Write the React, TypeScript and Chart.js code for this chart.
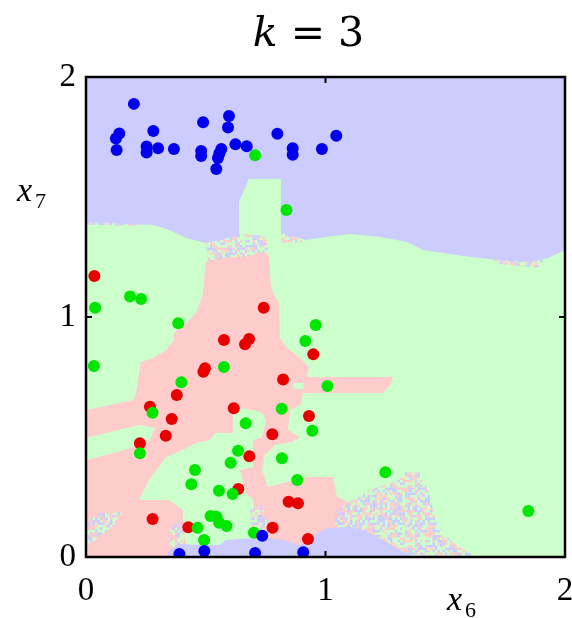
import React, { useEffect, useRef } from 'react';
import { Chart, registerables } from 'chart.js';
Chart.register(...registerables);

// ---------- data ----------
const xTicks = [0, 1, 2];
const yTicks = [0, 1, 2];

const blueX = [0.2, 0.139, 0.125, 0.128, 0.281, 0.253, 0.253, 0.301, 0.367, 0.489, 0.481, 0.481, 0.597, 0.593, 0.565, 0.557, 0.551, 0.544, 0.624, 0.671, 0.799, 0.863, 0.863, 0.985, 1.045, 0.39, 0.494, 0.736, 0.706, 0.907];
const blueY = [1.888, 1.765, 1.744, 1.696, 1.775, 1.71, 1.685, 1.703, 1.7, 1.811, 1.692, 1.671, 1.8375, 1.79, 1.7, 1.682, 1.6625, 1.617, 1.72, 1.711, 1.764, 1.703, 1.676, 1.7, 1.755, 0.0125, 0.025, 0.089, 0.017, 0.02];

const greenX = [0.706, 0.837, 0.184, 0.23, 0.038, 0.385, 0.033, 0.576, 0.398, 0.959, 0.916, 1.008, 0.278, 0.225, 0.667, 0.635, 0.604, 0.455, 0.44, 0.555, 0.612, 0.52, 0.545, 0.556, 0.587, 0.466, 0.493, 0.701, 0.817, 0.945, 0.818, 0.882, 1.25, 1.847];
const greenY = [1.674, 1.446, 1.085, 1.075, 1.039, 0.974, 0.796, 0.792, 0.728, 0.967, 0.9, 0.7125, 0.601, 0.432, 0.557, 0.443, 0.393, 0.3625, 0.303, 0.276, 0.2625, 0.171, 0.168, 0.143, 0.129, 0.122, 0.071, 0.101, 0.618, 0.526, 0.411, 0.321, 0.353, 0.192];

const redX = [0.035, 0.742, 0.576, 0.681, 0.664, 0.497, 0.49, 0.379, 0.949, 0.823, 0.617, 0.267, 0.358, 0.333, 0.225, 0.778, 0.682, 0.636, 0.278, 0.427, 0.779, 0.931, 0.846, 0.885, 0.927];
const redY = [1.171, 1.039, 0.904, 0.908, 0.886, 0.786, 0.772, 0.675, 0.845, 0.74, 0.62, 0.626, 0.575, 0.505, 0.474, 0.511, 0.42, 0.283, 0.158, 0.124, 0.122, 0.5875, 0.23, 0.224, 0.075];

// decision regions (data units)
const blueTopRegion = [[0, 2], [2, 2], [2, 1.279], [1.929, 1.246], [1.854, 1.229], [1.716, 1.2375], [1.574, 1.254], [1.407, 1.279], [1.34, 1.3125], [1.228, 1.333], [1.102, 1.346], [1.002, 1.333], [0.919, 1.321], [0.814, 1.35], [0.814, 1.575], [0.68, 1.575], [0.639, 1.479], [0.639, 1.342], [0.559, 1.321], [0.501, 1.308], [0.418, 1.329], [0.347, 1.3625], [0.28, 1.383], [0, 1.396]];
const blueBottomRegion = [[0.334, 0], [0.351, 0.029], [0.392, 0.054], [0.476, 0.05], [0.559, 0.05], [0.585, 0.071], [0.697, 0.079], [0.768, 0.079], [0.823, 0.071], [0.894, 0.05], [0.956, 0.092], [1.006, 0.121], [1.102, 0.125], [1.157, 0.1125], [1.24, 0.071], [1.311, 0.029], [1.365, 0]];
const redMainRegion = [[0.501, 1.229], [0.539, 1.258], [0.752, 1.271], [0.764, 1.25], [0.772, 1.133], [0.781, 1.1], [0.806, 1.058], [0.81, 0.9125], [0.835, 0.875], [0.889, 0.833], [0.931, 0.792], [0.923, 0.75], [1.282, 0.75], [1.27, 0.717], [1.24, 0.683], [1.019, 0.683], [0.906, 0.683], [0.894, 0.633], [0.852, 0.6125], [0.843, 0.529], [0.894, 0.5], [0.86, 0.479], [0.789, 0.467], [0.747, 0.425], [0.735, 0.3625], [0.76, 0.292], [0.923, 0.333], [1.031, 0.333], [1.048, 0.25], [1.102, 0.225], [1.115, 0.142], [1.102, 0.05], [1.019, 0], [0, 0], [0, 0.6125], [0.1, 0.633], [0.196, 0.654], [0.209, 0.683], [0.221, 0.767], [0.23, 0.8125], [0.28, 0.829], [0.334, 0.8625], [0.367, 0.904], [0.367, 0.933], [0.418, 0.975], [0.459, 1.017], [0.489, 1.1], [0.493, 1.154]];
const greenCentreRegion = [[0.334, 0.417], [0.405, 0.446], [0.459, 0.475], [0.518, 0.4875], [0.539, 0.517], [0.614, 0.517], [0.614, 0.6], [0.643, 0.621], [0.697, 0.6125], [0.735, 0.6], [0.752, 0.571], [0.735, 0.5], [0.697, 0.4875], [0.697, 0.375], [0.643, 0.3625], [0.668, 0.267], [0.697, 0.2375], [0.71, 0.125], [0.697, 0.05], [0.459, 0], [0.418, 0.042], [0.405, 0.125], [0.405, 0.196], [0.347, 0.2375], [0.221, 0.2375], [0.263, 0.321], [0.309, 0.383]];
const greenTongueRegion = [[0, 0.496], [0.1, 0.521], [0.225, 0.55], [0.288, 0.537], [0.267, 0.488], [0.163, 0.446], [0, 0.404]];
const greenHoleRegion = [[0.864, 0.725], [0.906, 0.725], [0.91, 0.7], [0.868, 0.7]];
const tieRegions = [
  [[0.501, 1.304], [0.539, 1.3375], [0.639, 1.346], [0.752, 1.3375], [0.76, 1.279], [0.685, 1.254], [0.58, 1.246], [0.509, 1.229]],
  [[0.814, 1.354], [0.919, 1.342], [0.914, 1.308], [0.814, 1.308]],
  [[1.687, 1.246], [1.908, 1.2375], [1.896, 1.204], [1.729, 1.221]],
  [[0, 1.404], [0.225, 1.392], [0.225, 1.379], [0, 1.385]],
  [[1.081, 0.217], [1.186, 0.279], [1.282, 0.3125], [1.332, 0.354], [1.395, 0.354], [1.428, 0.279], [1.466, 0.133], [1.52, 0.071], [1.624, 0], [1.04, 0], [1.04, 0.19]],
  [[0, 0.146], [0.058, 0.183], [0.154, 0.1875], [0.121, 0.133], [0.038, 0.071], [0, 0.05]],
  [[0.342, 0.1125], [0.384, 0.146], [0.413, 0.1125], [0.405, 0.05], [0.351, 0.0375]],
  [[0.685, 0.196], [0.735, 0.217], [0.76, 0.154], [0.735, 0.092], [0.693, 0.092]],
];

// ---------- styles ----------
const C_BLUE_BG = '#ccccff';
const C_GREEN_BG = '#ccffcc';
const C_RED_BG = '#ffcccc';
const C_BLUE = '#0000ee';
const C_GREEN = '#00e600';
const C_RED = '#e60000';
const SERIF = '"Liberation Serif", "DejaVu Serif", serif';
const MATH = '"DejaVu Serif", "Liberation Serif", serif';

function makeNoisePattern(ctx: CanvasRenderingContext2D) {
  const n = 24, cell = 2.5;
  const c = document.createElement('canvas');
  c.width = n * cell; c.height = n * cell;
  const g = c.getContext('2d')!;
  const cols = [C_RED_BG, C_BLUE_BG, C_GREEN_BG, C_RED_BG, C_BLUE_BG, '#f2e6f2'];
  for (let i = 0; i < n; i++) for (let j = 0; j < n; j++) {
    const h = ((i * 73856093) ^ (j * 19349663) ^ ((i + j) * 83492791)) >>> 0;
    g.fillStyle = cols[h % cols.length];
    g.fillRect(i * cell, j * cell, cell, cell);
  }
  return ctx.createPattern(c, 'repeat');
}

const regionsPlugin = {
  id: 'regions',
  beforeDatasetsDraw(chart: any) {
    const { ctx, chartArea: a, scales } = chart;
    const poly = (pts: number[][], fill: any) => {
      ctx.beginPath();
      pts.forEach((p, i) => {
        const px = scales.x.getPixelForValue(p[0]);
        const py = scales.y.getPixelForValue(p[1]);
        if (i) ctx.lineTo(px, py); else ctx.moveTo(px, py);
      });
      ctx.closePath();
      ctx.fillStyle = fill;
      ctx.fill();
    };
    ctx.save();
    ctx.beginPath();
    ctx.rect(a.left, a.top, a.right - a.left, a.bottom - a.top);
    ctx.clip();
    ctx.fillStyle = C_GREEN_BG;
    ctx.fillRect(a.left, a.top, a.right - a.left, a.bottom - a.top);
    poly(redMainRegion, C_RED_BG);
    poly(greenCentreRegion, C_GREEN_BG);
    poly(greenTongueRegion, C_GREEN_BG);
    poly(greenHoleRegion, C_GREEN_BG);
    const pat = makeNoisePattern(ctx);
    tieRegions.forEach((r) => poly(r, pat));
    poly(blueTopRegion, C_BLUE_BG);
    poly(blueBottomRegion, C_BLUE_BG);
    ctx.restore();
  },
  afterDraw(chart: any) {
    const { ctx, chartArea: a, scales } = chart;
    ctx.save();
    // frame
    ctx.strokeStyle = '#000';
    ctx.lineWidth = 2.5;
    ctx.strokeRect(a.left, a.top, a.right - a.left, a.bottom - a.top);
    ctx.lineWidth = 2;
    xTicks.forEach((v) => {
      const px = scales.x.getPixelForValue(v);
      ctx.beginPath();
      ctx.moveTo(px, a.bottom); ctx.lineTo(px, a.bottom - 6);
      ctx.moveTo(px, a.top); ctx.lineTo(px, a.top + 6);
      ctx.stroke();
    });
    yTicks.forEach((v) => {
      const py = scales.y.getPixelForValue(v);
      ctx.beginPath();
      ctx.moveTo(a.left, py); ctx.lineTo(a.left + 6, py);
      ctx.moveTo(a.right, py); ctx.lineTo(a.right - 6, py);
      ctx.stroke();
    });
    // title k = 3
    ctx.fillStyle = '#000';
    ctx.textBaseline = 'alphabetic';
    ctx.textAlign = 'left';
    const tFont = 41;
    ctx.font = `italic ${tFont}px ${MATH}`;
    const kW = ctx.measureText('k').width;
    ctx.font = `${tFont}px ${MATH}`;
    const restW = ctx.measureText(' = 3').width;
    const cx = (a.left + a.right) / 2 - 17;
    const tx = cx - (kW + restW) / 2;
    ctx.font = `italic ${tFont}px ${MATH}`;
    ctx.fillText('k', tx, 46);
    ctx.font = `${tFont}px ${MATH}`;
    ctx.fillText(' = 3', tx + kW, 46);
    // y axis label x7
    ctx.font = `italic 34px ${SERIF}`;
    ctx.fillText('x', a.left - 69, a.top + 124);
    ctx.font = `22px ${SERIF}`;
    ctx.fillText('7', a.left - 51, a.top + 131);
    // x axis label x6
    ctx.font = `italic 34px ${SERIF}`;
    ctx.fillText('x', a.right - 118, a.bottom + 53);
    ctx.font = `22px ${SERIF}`;
    ctx.fillText('6', a.right - 100, a.bottom + 60);
    ctx.restore();
  },
};

export default function App() {
  const ref = useRef<HTMLCanvasElement>(null);
  useEffect(() => {
    const mk = (xs: number[], ys: number[]) => xs.map((x, i) => ({ x, y: ys[i] }));
    const zeroPad = (s: any) => { s.paddingLeft = 0; s.paddingRight = 0; s.paddingTop = 0; s.paddingBottom = 0; };
    const chart = new Chart(ref.current!, {
      type: 'scatter',
      data: {
        datasets: [
          { label: 'class 1', data: mk(blueX, blueY), backgroundColor: C_BLUE, borderWidth: 0, pointRadius: 6 },
          { label: 'class 2', data: mk(greenX, greenY), backgroundColor: C_GREEN, borderWidth: 0, pointRadius: 6 },
          { label: 'class 3', data: mk(redX, redY), backgroundColor: C_RED, borderWidth: 0, pointRadius: 6 },
        ],
      },
      options: {
        animation: false,
        responsive: false,
        layout: { padding: { left: 0, right: 7, top: 77, bottom: 0 } },
        plugins: { legend: { display: false }, tooltip: { enabled: false }, title: { display: false } },
        scales: {
          x: {
            type: 'linear', min: 0, max: 2,
            afterBuildTicks: (s: any) => { s.ticks = xTicks.map((v) => ({ value: v })); },
            ticks: { color: '#000', font: { family: SERIF, size: 33 }, padding: 15, maxRotation: 0 },
            grid: { display: false, drawTicks: false },
            border: { display: false },
            afterFit: (s: any) => { s.height = 61; zeroPad(s); },
          },
          y: {
            type: 'linear', min: 0, max: 2,
            afterBuildTicks: (s: any) => { s.ticks = yTicks.map((v) => ({ value: v })); },
            ticks: { color: '#000', font: { family: SERIF, size: 33 }, padding: 10 },
            grid: { display: false, drawTicks: false },
            border: { display: false },
            afterFit: (s: any) => { s.width = 86; zeroPad(s); },
          },
        },
      },
      plugins: [regionsPlugin],
    });
    return () => chart.destroy();
  }, []);
  return (
    <div style={{ position: 'absolute', left: 0, top: 0, width: 572, height: 618, background: '#fff' }}>
      <canvas ref={ref} width={572} height={618} />
    </div>
  );
}
